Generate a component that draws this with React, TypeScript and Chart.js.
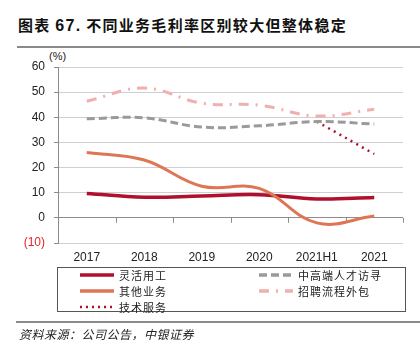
import React, { useEffect, useRef } from "react";
import { Chart, registerables } from "chart.js";

Chart.register(...registerables);

const categories = ["2017", "2018", "2019", "2020", "2021H1", "2021"];
const flexStaffing = [9.7, 8.2, 8.7, 9.2, 7.5, 8.1];
const otherBusiness = [26, 23, 12.6, 11.7, -2, 0.7];
const techServices = [null, null, null, null, 38.3, 25.4];
const executiveSearch = [39.4, 39.8, 36.1, 36.6, 38.3, 37.3];
const rpo = [46.4, 51.6, 45.6, 44.8, 40.5, 43.2];
const yMin = -10;
const yMax = 60;
const yStep = 10;

const RED = "#B0102C";
const ORANGE = "#DE7656";
const GRAY = "#9A9A9A";
const PINK = "#F0B0AE";

const CJK = '"Noto Sans CJK SC", sans-serif';
const LATIN = '"Liberation Sans", Arial, sans-serif';

const zeroTicks = {
  id: "zeroTicks",
  beforeDatasetsDraw(chart: any) {
    const { ctx, chartArea, scales } = chart;
    const y0 = scales.y.getPixelForValue(0);
    const n = categories.length;
    const w = (chartArea.right - chartArea.left) / n;
    ctx.save();
    ctx.strokeStyle = "#8c8c8c";
    ctx.lineWidth = 1;
    ctx.beginPath();
    for (let i = 0; i <= n; i++) {
      const x = Math.round(chartArea.left + i * w) + 0.5;
      ctx.moveTo(x, y0);
      ctx.lineTo(x, y0 + 5);
    }
    ctx.stroke();
    ctx.restore();
  },
};

function LegendItem({ color, dash, width, label }: any) {
  return (
    <div style={{ display: "flex", alignItems: "center", height: 16 }}>
      <svg width={36} height={8} style={{ marginRight: 4 }}>
        <line x1={1} y1={4} x2={35} y2={4} stroke={color} strokeWidth={width} strokeDasharray={dash} />
      </svg>
      <span style={{ fontFamily: CJK, fontSize: 11, letterSpacing: 1, color: "#222" }}>{label}</span>
    </div>
  );
}

export default function App() {
  const ref = useRef<HTMLCanvasElement>(null);
  useEffect(() => {
    if (!ref.current) return;
    const chart = new Chart(ref.current, {
      type: "line",
      data: {
        labels: categories,
        datasets: [
          { label: "招聘流程外包", data: rpo, borderColor: PINK, borderWidth: 3, borderDash: [10, 7, 2, 7], tension: 0.4, pointRadius: 0, fill: false },
          { label: "中高端人才访寻", data: executiveSearch, borderColor: GRAY, borderWidth: 3, borderDash: [8, 4], tension: 0.4, pointRadius: 0, fill: false },
          { label: "技术服务", data: techServices, borderColor: RED, borderWidth: 2.5, borderDash: [2, 4.5], tension: 0.4, pointRadius: 0, fill: false },
          { label: "其他业务", data: otherBusiness, borderColor: ORANGE, borderWidth: 3, tension: 0.4, pointRadius: 0, fill: false },
          { label: "灵活用工", data: flexStaffing, borderColor: RED, borderWidth: 3.5, tension: 0.4, pointRadius: 0, fill: false },
        ],
      },
      options: {
        animation: false,
        responsive: false,
        maintainAspectRatio: false,
        layout: { padding: { left: 0, right: 17, top: 67, bottom: 81 } },
        plugins: { legend: { display: false }, tooltip: { enabled: false } },
        scales: {
          x: {
            offset: true,
            grid: { display: false, drawTicks: false, offset: true },
            border: { display: false },
            ticks: { color: "#222", font: { family: LATIN, size: 12 }, padding: 7, maxRotation: 0 },
            afterFit: (s: any) => { s.height = 30; },
          },
          y: {
            min: yMin,
            max: yMax,
            ticks: {
              stepSize: yStep,
              padding: 9,
              font: { family: LATIN, size: 12 },
              color: (c: any) => (c.tick && c.tick.value < 0 ? "#E8202A" : "#222"),
              callback: (v: any) => (v < 0 ? `(${-v})` : `${v}`),
            },
            grid: {
              color: (c: any) => (c.tick && c.tick.value === 0 ? "#8c8c8c" : "#cfcfcf"),
              tickColor: "#8c8c8c",
              tickLength: 4,
              lineWidth: 1,
            },
            border: { display: true, color: "#8c8c8c" },
            afterFit: (s: any) => { s.width = 58; },
          },
        },
      },
      plugins: [zeroTicks],
    });
    return () => chart.destroy();
  }, []);

  return (
    <div style={{ position: "absolute", left: 0, top: 0, width: 420, height: 354, background: "#fff", overflow: "hidden" }}>
      <div style={{ position: "absolute", left: 18, top: 14, fontFamily: CJK, fontWeight: 700, fontSize: 15, letterSpacing: 1.3, color: "#111", whiteSpace: "nowrap", lineHeight: "22px" }}>
        图表 <span style={{ fontFamily: LATIN, fontSize: 16 }}>67.</span> 不同业务毛利率区别较大但整体稳定
      </div>
      <div style={{ position: "absolute", left: 17, top: 46, width: 403, height: 2, background: "#8a8a8a" }} />
      <div style={{ position: "absolute", left: 49, top: 50, fontFamily: LATIN, fontSize: 11, color: "#222" }}>(%)</div>
      <canvas ref={ref} width={420} height={354} style={{ position: "absolute", left: 0, top: 0, width: 420, height: 354 }} />
      <div style={{ position: "absolute", left: 57, top: 267, width: 349, height: 45, border: "1px solid #555", boxSizing: "border-box" }}>
        <div style={{ position: "absolute", left: 21, top: -1 }}>
          <LegendItem color={RED} width={3.5} label="灵活用工" />
          <LegendItem color={ORANGE} width={3.5} label="其他业务" />
          <LegendItem color={RED} width={2.5} dash="2 4" label="技术服务" />
        </div>
        <div style={{ position: "absolute", left: 200, top: -1 }}>
          <LegendItem color={GRAY} width={3.5} dash="8 4" label="中高端人才访寻" />
          <LegendItem color={PINK} width={3.5} dash="10 7 2 7" label="招聘流程外包" />
        </div>
      </div>
      <div style={{ position: "absolute", left: 16, top: 321, width: 404, height: 1.5, background: "#8a8a8a" }} />
      <div style={{ position: "absolute", left: 19, top: 325, fontFamily: CJK, fontStyle: "italic", fontSize: 12, color: "#222", letterSpacing: 0.5 }}>
        资料来源：公司公告，中银证券
      </div>
    </div>
  );
}
